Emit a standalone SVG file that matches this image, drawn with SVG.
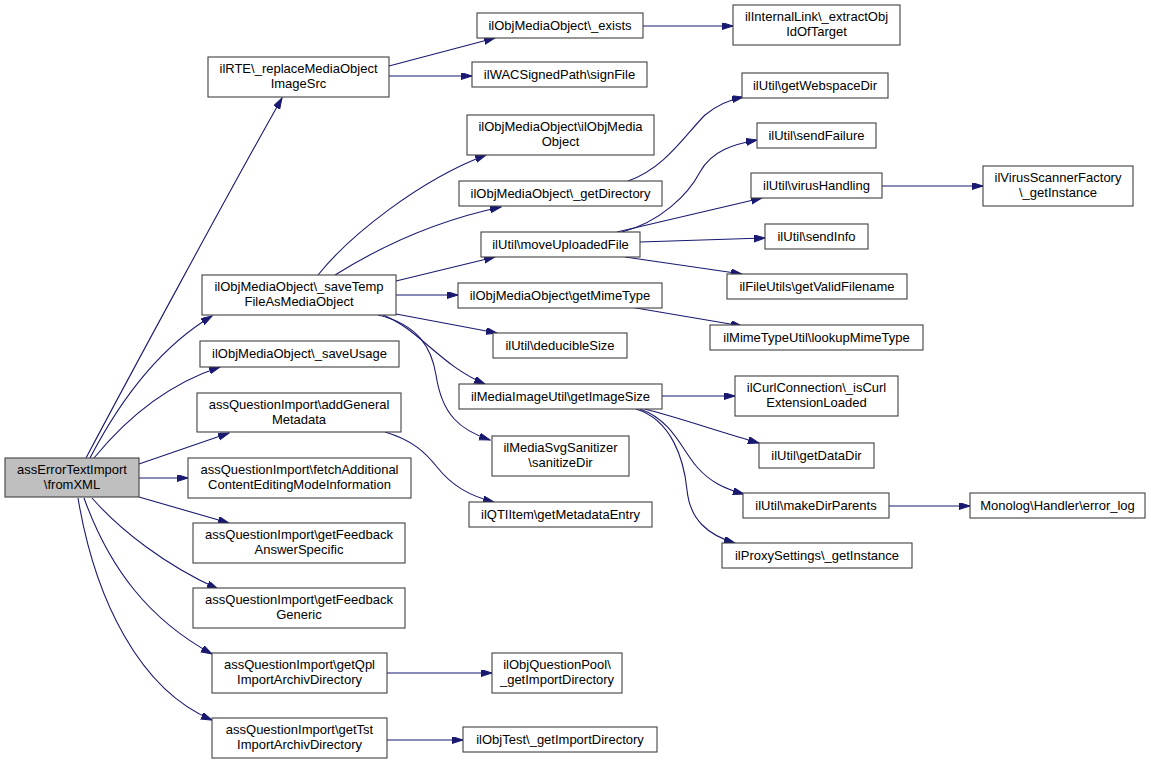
<svg xmlns="http://www.w3.org/2000/svg" width="1151" height="765" viewBox="0 0 1151 765">
<style>
.n rect{fill:#ffffff;stroke:#404040;stroke-width:1.1}
.n.root rect{fill:#bfbfbf}
.n text{font-family:"Liberation Sans",Arial,sans-serif;font-size:13px;fill:#000;text-anchor:middle}
.e path{fill:none;stroke:#191970;stroke-width:1.1;marker-end:url(#ah)}
</style>
<defs>
<marker id="ah" markerUnits="userSpaceOnUse" markerWidth="12" markerHeight="8" refX="11" refY="3.5" orient="auto">
<path d="M0,0 L11,3.5 L0,7 z" fill="#191970" stroke="#191970" stroke-width="1"/>
</marker>
</defs>
<rect width="1151" height="765" fill="#fff"/>
<g id="edges" class="e">
<path d="M 86,458 C 130,375 230,190 282,98"/>
<path d="M 90,458 C 115,410 155,350 212,316"/>
<path d="M 94,458 C 125,420 165,385 220,367"/>
<path d="M 139,464 L 229,433"/>
<path d="M 139,478 L 188,478"/>
<path d="M 139,497 L 229,523"/>
<path d="M 92,498 C 120,530 165,565 218,589"/>
<path d="M 84,498 C 110,570 150,620 212,654"/>
<path d="M 78,498 C 95,600 140,690 212,720"/>
<path d="M 389,66 L 495,38"/>
<path d="M 389,76 L 472,76"/>
<path d="M 643,26 L 733,26"/>
<path d="M 318,275 C 350,235 420,180 486,155"/>
<path d="M 335,275 C 375,250 430,222 501,207"/>
<path d="M 396,281 L 495,257"/>
<path d="M 396,295 L 458,295"/>
<path d="M 396,314 L 497,333"/>
<path d="M 383,315 C 420,330 440,365 485,384"/>
<path d="M 378,315 C 420,325 432,350 436,375 C 442,415 460,430 490,440"/>
<path d="M 628,181 C 665,168 685,135 705,115 C 717,105 728,100 743,97"/>
<path d="M 622,232 C 660,222 688,195 700,172 C 712,150 735,144 757,140"/>
<path d="M 617,232 L 762,198"/>
<path d="M 640,242 L 765,238"/>
<path d="M 625,257 L 742,274"/>
<path d="M 630,307 L 742,326"/>
<path d="M 882,186 L 983,186"/>
<path d="M 662,396 L 735,396"/>
<path d="M 645,409 C 680,418 720,432 759,443"/>
<path d="M 640,409 C 672,420 682,450 697,467 C 710,482 725,489 744,494"/>
<path d="M 636,409 C 672,420 684,460 687,490 C 690,520 708,535 735,543"/>
<path d="M 889,506 L 970,506"/>
<path d="M 385,432 C 412,440 425,452 437,467 C 452,486 470,496 494,502"/>
<path d="M 387,673 L 492,673"/>
<path d="M 387,740 L 463,740"/>
</g>
<g id="root" class="n root"><rect x="5" y="458" width="134" height="39"/><text x="72" y="474">assErrorTextImport</text><text x="72" y="489">\fromXML</text></g>
<g id="n1" class="n"><rect x="208" y="57" width="181" height="40"/><text x="298.5" y="73">ilRTE\_replaceMediaObject</text><text x="298.5" y="88">ImageSrc</text></g>
<g id="n2" class="n"><rect x="202" y="275" width="194" height="40"/><text x="299" y="291">ilObjMediaObject\_saveTemp</text><text x="299" y="306">FileAsMediaObject</text></g>
<g id="n3" class="n"><rect x="200" y="341" width="199" height="26"/><text x="299.5" y="358">ilObjMediaObject\_saveUsage</text></g>
<g id="n4" class="n"><rect x="197" y="393" width="204" height="39"/><text x="299" y="409">assQuestionImport\addGeneral</text><text x="299" y="424">Metadata</text></g>
<g id="n5" class="n"><rect x="188" y="458" width="223" height="40"/><text x="299.5" y="474">assQuestionImport\fetchAdditional</text><text x="299.5" y="489">ContentEditingModeInformation</text></g>
<g id="n6" class="n"><rect x="193" y="523" width="212" height="40"/><text x="299" y="539">assQuestionImport\getFeedback</text><text x="299" y="554">AnswerSpecific</text></g>
<g id="n7" class="n"><rect x="193" y="588" width="212" height="40"/><text x="299" y="604">assQuestionImport\getFeedback</text><text x="299" y="619">Generic</text></g>
<g id="n8" class="n"><rect x="212" y="653" width="175" height="40"/><text x="299.5" y="669">assQuestionImport\getQpl</text><text x="299.5" y="684">ImportArchivDirectory</text></g>
<g id="n9" class="n"><rect x="212" y="718" width="175" height="40"/><text x="299.5" y="734">assQuestionImport\getTst</text><text x="299.5" y="749">ImportArchivDirectory</text></g>
<g id="n10" class="n"><rect x="477" y="13" width="166" height="25"/><text x="560" y="30">ilObjMediaObject\_exists</text></g>
<g id="n11" class="n"><rect x="472" y="62" width="175" height="25"/><text x="559.5" y="79">ilWACSignedPath\signFile</text></g>
<g id="n12" class="n"><rect x="467" y="115" width="187" height="40"/><text x="560.5" y="131">ilObjMediaObject\ilObjMedia</text><text x="560.5" y="146">Object</text></g>
<g id="n13" class="n"><rect x="459" y="181" width="203" height="25"/><text x="560.5" y="198">ilObjMediaObject\_getDirectory</text></g>
<g id="n14" class="n"><rect x="481" y="232" width="159" height="25"/><text x="560.5" y="249">ilUtil\moveUploadedFile</text></g>
<g id="n15" class="n"><rect x="458" y="283" width="204" height="25"/><text x="560" y="300">ilObjMediaObject\getMimeType</text></g>
<g id="n16" class="n"><rect x="493" y="333" width="134" height="25"/><text x="560" y="350">ilUtil\deducibleSize</text></g>
<g id="n17" class="n"><rect x="459" y="384" width="203" height="25"/><text x="560.5" y="401">ilMediaImageUtil\getImageSize</text></g>
<g id="n18" class="n"><rect x="492" y="436" width="137" height="40"/><text x="560.5" y="452">ilMediaSvgSanitizer</text><text x="560.5" y="467">\sanitizeDir</text></g>
<g id="n19" class="n"><rect x="469" y="502" width="183" height="25"/><text x="560.5" y="519">ilQTIItem\getMetadataEntry</text></g>
<g id="n20" class="n"><rect x="492" y="653" width="130" height="40"/><text x="557" y="669">ilObjQuestionPool\</text><text x="557" y="684">_getImportDirectory</text></g>
<g id="n21" class="n"><rect x="463" y="727" width="194" height="25"/><text x="560" y="744">ilObjTest\_getImportDirectory</text></g>
<g id="n22" class="n"><rect x="733" y="5" width="167" height="40"/><text x="816.5" y="21">ilInternalLink\_extractObj</text><text x="816.5" y="36">IdOfTarget</text></g>
<g id="n23" class="n"><rect x="742" y="73" width="146" height="25"/><text x="815" y="90">ilUtil\getWebspaceDir</text></g>
<g id="n24" class="n"><rect x="757" y="123" width="119" height="25"/><text x="816.5" y="140">ilUtil\sendFailure</text></g>
<g id="n25" class="n"><rect x="751" y="173" width="131" height="25"/><text x="816.5" y="190">ilUtil\virusHandling</text></g>
<g id="n26" class="n"><rect x="765" y="224" width="103" height="25"/><text x="816.5" y="241">ilUtil\sendInfo</text></g>
<g id="n27" class="n"><rect x="727" y="274" width="180" height="25"/><text x="817" y="291">ilFileUtils\getValidFilename</text></g>
<g id="n28" class="n"><rect x="710" y="325" width="213" height="25"/><text x="816.5" y="342">ilMimeTypeUtil\lookupMimeType</text></g>
<g id="n29" class="n"><rect x="735" y="376" width="163" height="40"/><text x="816.5" y="392">ilCurlConnection\_isCurl</text><text x="816.5" y="407">ExtensionLoaded</text></g>
<g id="n30" class="n"><rect x="759" y="443" width="115" height="25"/><text x="816.5" y="460">ilUtil\getDataDir</text></g>
<g id="n31" class="n"><rect x="743" y="493" width="146" height="25"/><text x="816" y="510">ilUtil\makeDirParents</text></g>
<g id="n32" class="n"><rect x="722" y="543" width="190" height="25"/><text x="817" y="560">ilProxySettings\_getInstance</text></g>
<g id="n33" class="n"><rect x="983" y="166" width="150" height="40"/><text x="1058" y="182">ilVirusScannerFactory</text><text x="1058" y="197">\_getInstance</text></g>
<g id="n34" class="n"><rect x="970" y="493" width="175" height="25"/><text x="1057.5" y="510">Monolog\Handler\error_log</text></g>
</svg>
